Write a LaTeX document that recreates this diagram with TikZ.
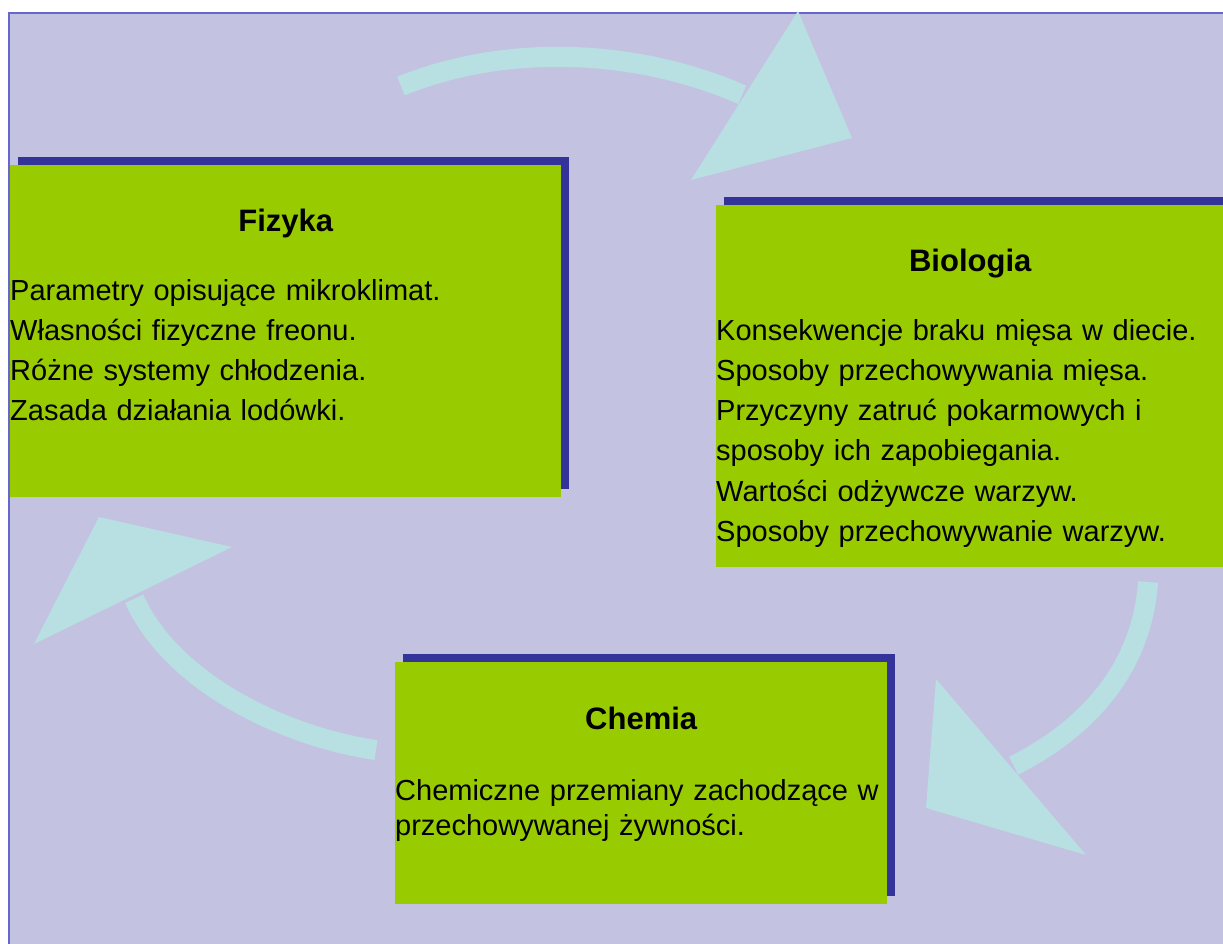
\documentclass[tikz,border=0pt]{standalone}
\usepackage{fontspec}
\setmainfont{Liberation Sans}
\usepackage{tikz}
\usetikzlibrary{positioning, calc, shadows}
\definecolor{PageLilac}{RGB}{195,195,225}
\definecolor{FrameBlue}{RGB}{102,102,204}
\definecolor{BoxGreen}{RGB}{153,204,0}
\definecolor{ShadowBlue}{RGB}{51,51,153}
\definecolor{ArrowCyan}{RGB}{184,223,226}

\begin{document}
\begin{tikzpicture}[x=1pt, y=-1pt,
    box/.style={rectangle, fill=BoxGreen, inner sep=0pt, anchor=north west,
        drop shadow={shadow xshift=8pt, shadow yshift=8pt, fill=ShadowBlue, opacity=1}},
    title/.style={inner sep=0pt, anchor=base, font=\fontsize{31}{36}\selectfont\bfseries},
    body/.style={inner sep=0pt, anchor=base west, text width=520pt, align=left,
        font=\fontsize{29}{40.3}\selectfont},
    shaft/.style={draw=ArrowCyan, line width=20pt, shorten >=3pt},
    head/.style={fill=ArrowCyan}]
    \useasboundingbox (0,0) rectangle (1223,944);

    % --- Background ---
    \fill[PageLilac] (9,13) rectangle (1223,944);
    \draw[FrameBlue, line width=1.5pt] (9,944) -- (9,13) -- (1223,13);

    % --- Arrows ---
    \coordinate (top-s) at (401,86);
    \coordinate (top-e) at (745,96);
    \coordinate (top-a) at (798,11);
    \coordinate (top-b) at (691,180);
    \coordinate (top-tip) at (852,138);
    \draw[shaft] (top-s) .. controls (510,42) and (640,50) .. (top-e);
    \fill[head] (top-a) -- (top-tip) -- (top-b) -- cycle;

    \coordinate (right-s) at (1148,582);
    \coordinate (right-e) at (1011,767);
    \coordinate (right-a) at (936,679);
    \coordinate (right-b) at (1086,855);
    \coordinate (right-tip) at (926,808);
    \draw[shaft] (right-s) .. controls (1142,670) and (1085,730) .. (right-e);
    \fill[head] (right-a) -- (right-tip) -- (right-b) -- cycle;

    \coordinate (left-s) at (376,750);
    \coordinate (left-e) at (133,596);
    \coordinate (left-a) at (232,547);
    \coordinate (left-b) at (34,644);
    \coordinate (left-tip) at (99,517);
    \draw[shaft] (left-s) .. controls (280,736) and (170,680) .. (left-e);
    \fill[head] (left-a) -- (left-tip) -- (left-b) -- cycle;

    % --- Fizyka ---
    \node[box, minimum width=551pt, minimum height=332pt] (fizyka) at (10,165) {};
    \node[title] (fizyka-title) at ([yshift=-66pt]fizyka.north) {Fizyka};
    \node[body] (fizyka-text) at ([yshift=-135pt]fizyka.north west)
        {Parametry opisujące mikroklimat.\\
         Własności fizyczne freonu.\\
         Różne systemy chłodzenia.\\
         Zasada działania lodówki.};

    % --- Biologia ---
    \node[box, minimum width=508pt, minimum height=362pt] (biologia) at (716,205) {};
    \node[title] (biologia-title) at ([yshift=-66pt]biologia.north) {Biologia};
    \node[body] (biologia-text) at ([yshift=-135pt]biologia.north west)
        {Konsekwencje braku mięsa w diecie.\\
         Sposoby przechowywania mięsa.\\
         Przyczyny zatruć pokarmowych i\\
         sposoby ich zapobiegania.\\
         Wartości odżywcze warzyw.\\
         Sposoby przechowywanie warzyw.};

    % --- Chemia ---
    \node[box, minimum width=492pt, minimum height=242pt] (chemia) at (395,662) {};
    \node[title] (chemia-title) at ([yshift=-67pt]chemia.north) {Chemia};
    \node[body, font=\fontsize{29}{34.5}\selectfont] (chemia-text) at ([yshift=-138.5pt]chemia.north west)
        {Chemiczne przemiany zachodzące w\\
         przechowywanej żywności.};
\end{tikzpicture}
\end{document}
